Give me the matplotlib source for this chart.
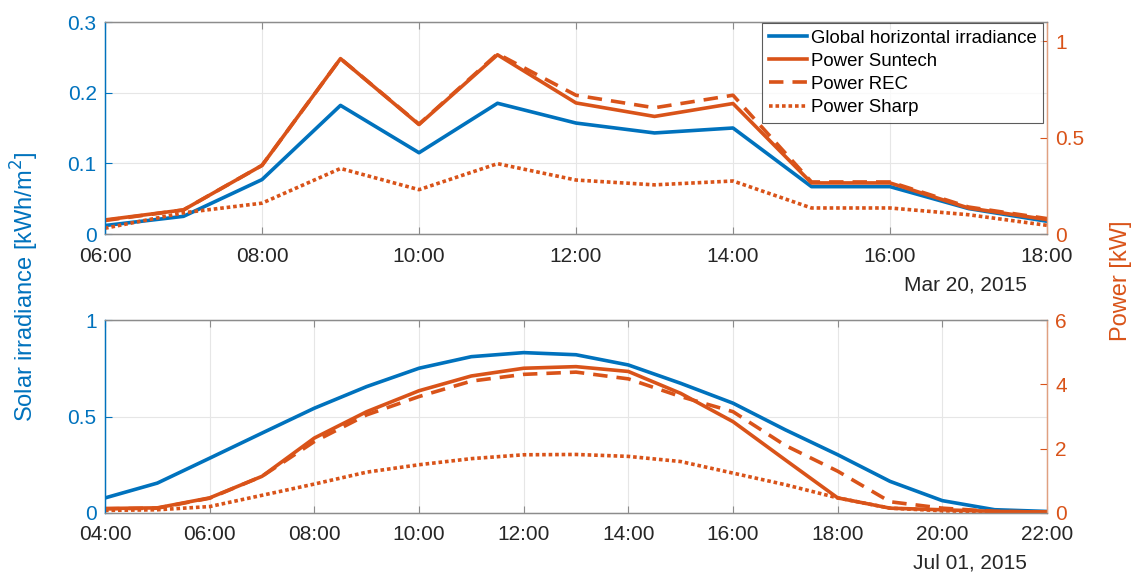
import matplotlib
matplotlib.use("Agg")
import matplotlib.pyplot as plt
from matplotlib.ticker import FuncFormatter, FixedLocator

plt.rcParams['font.family'] = ['Liberation Sans', 'DejaVu Sans']

BLUE = '#0072BD'
ORANGE = '#D95319'
GRAY = '#262626'

# --- March 20, 2015 (hourly) ---
mar_hours = [6, 7, 8, 9, 10, 11, 12, 13, 14, 15, 16, 17, 18]
mar_ghi = [0.012, 0.025, 0.077, 0.182, 0.115, 0.185, 0.157, 0.143, 0.150, 0.067, 0.067, 0.036, 0.018]
mar_suntech = [0.073, 0.125, 0.356, 0.91, 0.568, 0.93, 0.68, 0.61, 0.677, 0.265, 0.265, 0.135, 0.075]
mar_rec = [0.07, 0.125, 0.356, 0.91, 0.57, 0.935, 0.72, 0.655, 0.72, 0.27, 0.27, 0.14, 0.08]
mar_sharp = [0.03, 0.11, 0.16, 0.34, 0.23, 0.365, 0.28, 0.255, 0.275, 0.135, 0.135, 0.10, 0.045]

# --- July 01, 2015 (hourly) ---
jul_hours = list(range(4, 23))
jul_ghi = [0.078, 0.155, 0.284, 0.414, 0.543, 0.655, 0.75, 0.81, 0.831, 0.82, 0.767,
           0.672, 0.569, 0.431, 0.302, 0.164, 0.064, 0.017, 0.008]
jul_suntech = [0.14, 0.16, 0.47, 1.14, 2.33, 3.15, 3.8, 4.26, 4.5, 4.55, 4.4,
               3.72, 2.84, 1.65, 0.47, 0.15, 0.1, 0.05, 0.03]
jul_rec = [0.13, 0.15, 0.46, 1.14, 2.22, 3.05, 3.62, 4.1, 4.31, 4.38, 4.17,
           3.62, 3.15, 2.1, 1.3, 0.35, 0.15, 0.05, 0.03]
jul_sharp = [0.08, 0.1, 0.2, 0.55, 0.9, 1.27, 1.5, 1.69, 1.81, 1.82, 1.76,
             1.6, 1.24, 0.88, 0.47, 0.15, 0.07, 0.03, 0.02]

legend_labels = ['Global horizontal irradiance', 'Power Suntech', 'Power REC', 'Power Sharp']

W, H = 1137, 576
fig = plt.figure(figsize=(W / 100, H / 100), dpi=100)
X0, X1 = 105, 1047
ax1 = fig.add_axes([X0 / W, 1 - 234 / H, (X1 - X0) / W, (234 - 22) / H])
ax2 = fig.add_axes([X0 / W, 1 - 513 / H, (X1 - X0) / W, (513 - 320) / H])

hour_fmt = FuncFormatter(lambda v, p: f"{int(round(v)):02d}:00")


def draw(ax, hours, ghi, suntech, rec, sharp, xlim, ylim_l, yticks_l, ylim_r, yticks_r,
         ytl_l, ytl_r, date_text, date_y):
    ax.plot(hours, ghi, color=BLUE, lw=2.6)
    axr = ax.twinx()
    axr.plot(hours, suntech, color=ORANGE, lw=2.6, ls='-')
    axr.plot(hours, rec, color=ORANGE, lw=2.6, ls=(0, (4, 2.5)))
    axr.plot(hours, sharp, color=ORANGE, lw=2.6, ls=(0, (1, 0.8)))
    ax.set_xlim(*xlim)
    ax.set_ylim(*ylim_l)
    axr.set_ylim(*ylim_r)
    ax.xaxis.set_major_locator(FixedLocator(list(range(xlim[0], xlim[1] + 1, 2))))
    ax.xaxis.set_major_formatter(hour_fmt)
    ax.set_yticks(yticks_l)
    ax.set_yticklabels(ytl_l)
    axr.set_yticks(yticks_r)
    axr.set_yticklabels(ytl_r)
    ax.grid(True, color='#e6e6e6', lw=0.8)
    ax.set_axisbelow(True)
    ax.tick_params(axis='x', direction='in', labelcolor=GRAY, color='#8c8c8c',
                   labelsize=15, length=5, pad=9, top=True)
    ax.tick_params(axis='y', direction='in', colors=BLUE, labelsize=15, length=5, pad=6)
    axr.tick_params(axis='y', direction='in', colors=ORANGE, labelsize=15, length=5, pad=6)
    for a in (ax, axr):
        for s in ('top', 'bottom'):
            a.spines[s].set_color('#8c8c8c')
        a.spines['left'].set_color(BLUE)
        a.spines['right'].set_color('#e0a080')
        for s in a.spines.values():
            s.set_linewidth(0.9)
    fig.text(1027 / W, 1 - date_y / H, date_text, ha='right', va='center',
             fontsize=15, color=GRAY)
    return axr


ax1r = draw(ax1, mar_hours, mar_ghi, mar_suntech, mar_rec, mar_sharp, (6, 18),
            (0, 0.3), [0, 0.1, 0.2, 0.3], (0, 1.1), [0, 0.5, 1],
            ['0', '0.1', '0.2', '0.3'], ['0', '0.5', '1'], 'Mar 20, 2015', 285)
ax2r = draw(ax2, jul_hours, jul_ghi, jul_suntech, jul_rec, jul_sharp, (4, 22),
            (0, 1), [0, 0.5, 1], (0, 6), [0, 2, 4, 6],
            ['0', '0.5', '1'], ['0', '2', '4', '6'], 'Jul 01, 2015', 563)

handles = ax1.get_lines() + ax1r.get_lines()
leg = ax1r.legend(handles, legend_labels, loc='upper right', fontsize=13.4,
                  frameon=True, fancybox=False, borderaxespad=0.0, handlelength=2.05,
                  handletextpad=0.2, labelspacing=0.33, borderpad=0.35,
                  bbox_to_anchor=((1043 - X0) / (X1 - X0), 1.0 - 1 / 212))
leg.get_frame().set_edgecolor('#333333')
leg.get_frame().set_linewidth(0.8)

fig.text(25 / W, 1 - 287 / H, 'Solar irradiance [kWh/m$^2$]', rotation=90,
         ha='center', va='center', fontsize=17, color=BLUE)
fig.text(1121 / W, 1 - 281 / H, 'Power [kW]', rotation=90,
         ha='center', va='center', fontsize=17, color=ORANGE)

fig.savefig('out.png', dpi=100, facecolor='white')
